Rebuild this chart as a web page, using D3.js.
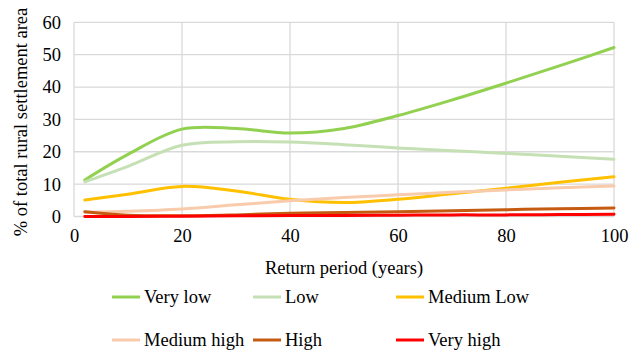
<!DOCTYPE html>
<html>
<head>
<meta charset="utf-8">
<script src="https://cdn.jsdelivr.net/npm/d3@7"></script>
<style>
  html, body { margin: 0; padding: 0; background: #fff; }
  svg { display: block; }
  svg text { font-family: "Liberation Serif", "DejaVu Serif", serif; font-size: 18.5px; fill: #000; }
</style>
</head>
<body>
<div id="chart"></div>
<script>
// Return periods (years) at which the area shares are given
const returnPeriods = [2, 10, 20, 30, 40, 50, 60, 70, 80, 90, 100];

// Share of total rural settlement area (%) per exposure class
const veryLow    = [11.3, 19.2, 27.0, 27.2, 25.8, 27.2, 31.2, 36.0, 41.2, 46.6, 52.2];
const low        = [10.7, 15.5, 22.0, 23.1, 23.0, 22.2, 21.2, 20.3, 19.5, 18.6, 17.7];
const mediumLow  = [5.1, 6.9, 9.3, 7.9, 5.3, 4.3, 5.3, 7.0, 8.7, 10.6, 12.3];
const mediumHigh = [1.3, 1.6, 2.3, 3.6, 4.9, 5.9, 6.7, 7.5, 8.2, 8.9, 9.4];
const high       = [1.5, 0.4, 0.2, 0.5, 1.0, 1.2, 1.5, 1.8, 2.1, 2.4, 2.6];
const veryHigh   = [0.0, 0.0, 0.1, 0.2, 0.3, 0.3, 0.4, 0.5, 0.5, 0.6, 0.7];

const seriesNames  = ["Very low", "Low", "Medium Low", "Medium high", "High", "Very high"];
const seriesValues = [veryLow, low, mediumLow, mediumHigh, high, veryHigh];
const seriesColors = ["#92D050", "#C5E0B4", "#FFC000", "#F8CBAD", "#C55A11", "#FF0000"];

const xTicks = [0, 20, 40, 60, 80, 100];
const yTicks = [0, 10, 20, 30, 40, 50, 60];

const W = 629, H = 353;
const svg = d3.select("#chart").append("svg")
  .attr("width", W).attr("height", H);

const x = d3.scaleLinear().domain([0, 100]).range([74, 614]);
const y = d3.scaleLinear().domain([0, 60]).range([216.5, 22.3]);

// Gridlines
const grid = svg.append("g").attr("stroke", "#d9d9d9").attr("stroke-width", 1.3);
grid.selectAll("line.h").data(yTicks).join("line")
  .attr("x1", x(0)).attr("x2", x(100))
  .attr("y1", d => y(d)).attr("y2", d => y(d));
grid.selectAll("line.v").data(xTicks).join("line")
  .attr("y1", y(0)).attr("y2", y(60))
  .attr("x1", d => x(d)).attr("x2", d => x(d));

// Axes (tick labels only; lines come from the grid)
const yAxis = svg.append("g").attr("transform", `translate(${x(0)},0)`)
  .call(d3.axisLeft(y).tickValues(yTicks).tickSize(0).tickPadding(13));
yAxis.select(".domain").remove();

const xAxis = svg.append("g").attr("transform", `translate(0,${y(0)})`)
  .call(d3.axisBottom(x).tickValues(xTicks).tickSize(0).tickPadding(12));
xAxis.select(".domain").remove();

[yAxis, xAxis].forEach(g => g.attr("font-family", null).attr("font-size", null));

// Series lines, smoothed
const line = d3.line()
  .x((d, i) => x(returnPeriods[i]))
  .y(d => y(d))
  .curve(d3.curveCatmullRom.alpha(0.5));

svg.append("g").selectAll("path").data(seriesValues).join("path")
  .attr("d", d => line(d))
  .attr("fill", "none")
  .attr("stroke", (d, i) => seriesColors[i])
  .attr("stroke-width", 3)
  .attr("stroke-linecap", "round");

// Axis titles
svg.append("text")
  .attr("x", x(50)).attr("y", 274)
  .attr("text-anchor", "middle")
  .text("Return period (years)");

svg.append("text")
  .attr("transform", `translate(27,122) rotate(-90)`)
  .attr("text-anchor", "middle")
  .text("% of total rural settlement area");

// Legend: three columns, two rows
const legendCols = [112, 253, 396];
const legendRows = [297, 340];
const legend = svg.append("g").selectAll("g").data(seriesNames).join("g")
  .attr("transform", (d, i) => `translate(${legendCols[i % 3]},${legendRows[Math.floor(i / 3)]})`);
legend.append("line")
  .attr("x1", 0).attr("x2", 28).attr("y1", 0).attr("y2", 0)
  .attr("stroke", (d, i) => seriesColors[i]).attr("stroke-width", 3);
legend.append("text")
  .attr("x", 32).attr("y", 0).attr("dy", "0.35em")
  .text(d => d);
</script>
</body>
</html>
